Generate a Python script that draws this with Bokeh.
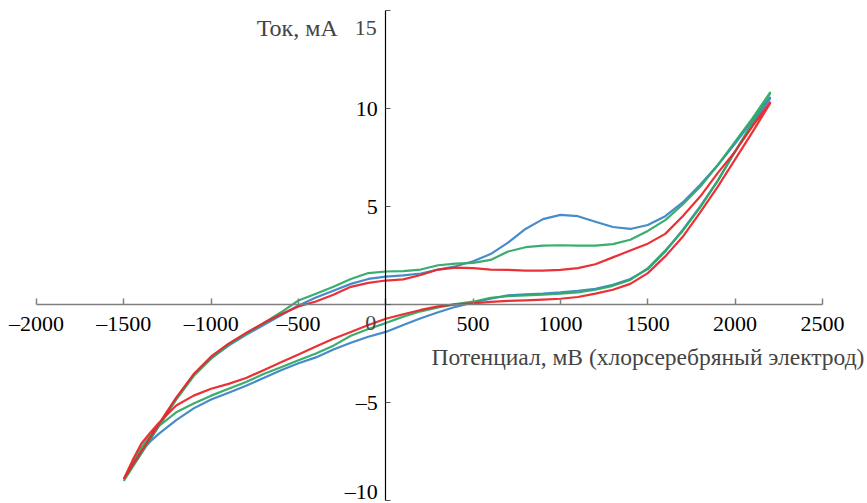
from bokeh.plotting import figure
from bokeh.models import Range1d, FixedTicker, Label
from bokeh.embed import file_html
from bokeh.resources import INLINE

# ---- data (mV, mA) ----
potential = [-1500, -1450, -1400, -1350, -1300, -1200, -1100, -1000, -900, -800, -700, -600,
             -500, -400, -300, -200, -100, 0, 100, 200, 300, 400,
             500, 600, 700, 800, 900, 1000, 1100, 1200, 1300, 1400,
             1500, 1600, 1700, 1800, 1900, 2000, 2100, 2200]

blue_anodic = [-8.9, -8.25, -7.6, -6.9, -6.2, -4.8, -3.6, -2.75, -2.1, -1.55, -1.05, -0.55,
               -0.05, 0.35, 0.7, 1.05, 1.3, 1.42, 1.48, 1.58, 1.78, 1.95,
               2.2, 2.57, 3.15, 3.85, 4.35, 4.57, 4.5, 4.22, 3.95, 3.85,
               4.05, 4.5, 5.2, 6.1, 7.1, 8.2, 9.4, 10.55]
blue_cathodic = [-8.9, -8.15, -7.5, -7.0, -6.6, -5.9, -5.3, -4.85, -4.5, -4.15, -3.75, -3.35,
                 -3.0, -2.7, -2.3, -1.95, -1.65, -1.4, -1.05, -0.7, -0.4, -0.12,
                 0.1, 0.3, 0.47, 0.52, 0.56, 0.62, 0.7, 0.8, 1.0, 1.3,
                 1.8, 2.7, 3.8, 5.0, 6.3, 7.8, 9.2, 10.5]

green_anodic = [-9.0, -8.3, -7.6, -6.9, -6.2, -4.85, -3.65, -2.75, -2.05, -1.5, -0.95, -0.4,
                0.2, 0.55, 0.9, 1.3, 1.6, 1.68, 1.7, 1.78, 2.0, 2.08,
                2.12, 2.27, 2.7, 2.92, 3.0, 3.02, 3.0, 3.0, 3.08, 3.3,
                3.75, 4.3, 5.1, 6.0, 7.1, 8.3, 9.5, 10.8]
green_cathodic = [-9.0, -8.1, -7.3, -6.7, -6.2, -5.5, -5.05, -4.65, -4.3, -3.95, -3.55, -3.2,
                  -2.85, -2.5, -2.1, -1.6, -1.25, -0.95, -0.62, -0.35, -0.15, 0.02,
                  0.14, 0.34, 0.42, 0.46, 0.5, 0.55, 0.62, 0.75, 0.95, 1.25,
                  1.85, 2.75, 3.75, 4.95, 6.3, 7.8, 9.3, 10.75]

red_anodic = [-8.9, -8.2, -7.5, -6.8, -6.1, -4.75, -3.55, -2.65, -2.0, -1.45, -0.95, -0.5,
              -0.1, 0.15, 0.5, 0.9, 1.1, 1.22, 1.28, 1.5, 1.78, 1.88,
              1.85, 1.78, 1.76, 1.73, 1.73, 1.76, 1.85, 2.05, 2.4, 2.75,
              3.1, 3.6, 4.5, 5.5, 6.7, 7.8, 9.1, 10.3]
red_cathodic = [-8.9, -7.95, -7.1, -6.55, -6.05, -5.15, -4.65, -4.3, -4.05, -3.75, -3.35, -2.95,
                -2.55, -2.15, -1.75, -1.4, -1.05, -0.73, -0.5, -0.28, -0.1, 0.0,
                0.06, 0.13, 0.18, 0.21, 0.25, 0.29, 0.38, 0.55, 0.75, 1.05,
                1.6, 2.45, 3.45, 4.7, 6.0, 7.4, 8.8, 10.25]

x_ticks = [-2000, -1500, -1000, -500, 0, 500, 1000, 1500, 2000, 2500]
x_tick_labels = ["–2000", "–1500", "–1000", "–500", "", "500", "1000", "1500", "2000", "2500"]
y_ticks = [-10, -5, 0, 5, 10, 15]
y_tick_labels = ["–10", "–5", "", "5", "10", ""]

x_title = "Потенциал, мВ (хлорсеребряный электрод)"
y_title = "Ток, мА"

FONT = "Liberation Serif"

p = figure(width=867, height=503, output_backend="svg", toolbar_location=None,
           x_range=Range1d(-2206, 2758), y_range=Range1d(-10.15, 15.5),
           min_border_left=0, min_border_right=0, min_border_top=0, min_border_bottom=0)
p.xgrid.visible = False
p.ygrid.visible = False
p.outline_line_color = None
p.background_fill_color = "white"

xa = p.xaxis[0]
xa.fixed_location = 0
xa.bounds = (-2000, 2500)
xa.ticker = FixedTicker(ticks=x_ticks)
xa.major_label_overrides = {t: l for t, l in zip(x_ticks, x_tick_labels)}
xa.axis_line_color = "#808080"
xa.axis_line_width = 1.5
xa.major_tick_line_color = "#808080"
xa.major_tick_line_width = 1.5
xa.major_tick_in = 6
xa.major_tick_out = 0
xa.minor_tick_line_color = None
xa.major_label_standoff = 7
xa.major_label_text_font = FONT
xa.major_label_text_font_size = "22px"
xa.major_label_text_color = "black"

ya = p.yaxis[0]
ya.fixed_location = 0
ya.bounds = (-10, 15)
ya.ticker = FixedTicker(ticks=y_ticks)
ya.major_label_overrides = {t: l for t, l in zip(y_ticks, y_tick_labels)}
ya.axis_line_color = "black"
ya.axis_line_width = 1.2
ya.major_tick_line_color = "#555555"
ya.major_tick_in = 5
ya.major_tick_out = 0
ya.minor_tick_line_color = None
ya.major_label_standoff = 8
ya.major_label_text_font = FONT
ya.major_label_text_font_size = "22px"
ya.major_label_text_color = "black"

series = [
    (blue_anodic, blue_cathodic, "#3d85c6"),
    (green_anodic, green_cathodic, "#2eaa66"),
    (red_anodic, red_cathodic, "#e8262b"),
]
for anodic, cathodic, col in series:
    xs = list(potential) + list(reversed(potential))
    ys = list(anodic) + list(reversed(cathodic))
    p.line(xs, ys, line_color=col, line_width=2.2, line_alpha=0.95, line_join="round")

p.add_layout(Label(x=0, y=15, x_offset=-9, y_offset=-18, text="15", text_align="right",
                   text_baseline="middle", text_font=FONT, text_font_size="22px"))
p.add_layout(Label(x=0, y=15, x_offset=-48, y_offset=-18, text=y_title, text_align="right",
                   text_baseline="middle", text_font=FONT, text_font_size="24px"))
p.add_layout(Label(x=0, y=0, x_offset=-15, y_offset=-19, text="0", text_align="center",
                   text_baseline="middle", text_font=FONT, text_font_size="22px"))
p.add_layout(Label(x=2500, y=0, x_offset=42, y_offset=-53, text=x_title, text_align="right",
                   text_baseline="middle", text_font=FONT, text_font_size="23.5px"))

open("out.html", "w").write(file_html(p, INLINE))
